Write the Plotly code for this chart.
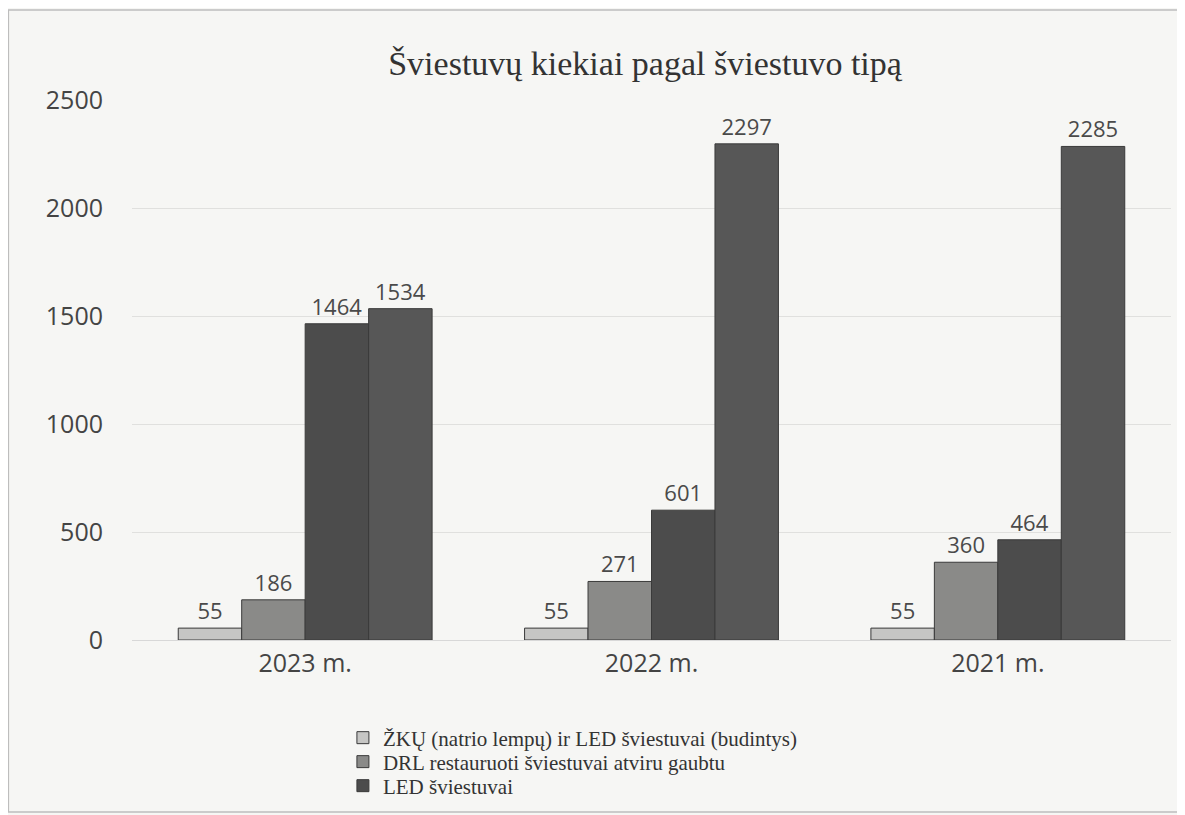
import plotly.graph_objects as go

categories = ["2023 m.", "2022 m.", "2021 m."]
series_names = [
    "ŽKŲ (natrio lempų) ir LED šviestuvai (budintys)",
    "DRL restauruoti šviestuvai atviru gaubtu",
    "LED šviestuvai",
    "LED šviestuvai",
]
s1 = [55, 55, 55]
s2 = [186, 271, 360]
s3 = [1464, 601, 464]
s4 = [1534, 2297, 2285]
values = [s1, s2, s3, s4]
colors = ["#c6c6c4", "#8a8a88", "#4c4c4c", "#575757"]
show_leg = [True, True, True, False]
legend_ids = ["legend", "legend2", "legend3", "legend3"]

fig = go.Figure()
for name, vals, col, sl, lid in zip(series_names, values, colors, show_leg, legend_ids):
    fig.add_trace(go.Bar(
        x=categories, y=vals, name=name, showlegend=sl, legend=lid,
        marker=dict(color=col, line=dict(color="#3a3a3a", width=1)),
        text=[str(v) for v in vals], textposition="outside",
        textfont=dict(family="Open Sans, sans-serif", size=22, color="#4a4a4a"),
        cliponaxis=False,
    ))

legend_font = dict(family="Liberation Serif, serif", size=21, color="#333333")
legend_common = dict(orientation="v", x=0.203, xanchor="left", yanchor="middle",
                     font=legend_font, itemwidth=30, bgcolor="rgba(0,0,0,0)")

fig.update_layout(
    width=1185, height=815,
    margin=dict(l=124, r=22, t=92, b=183),
    paper_bgcolor="#f6f6f4", plot_bgcolor="#f6f6f4",
    barmode="group", bargap=0.267, bargroupgap=0,
    title=dict(text="Šviestuvų kiekiai pagal šviestuvo tipą", x=0.5376, xanchor="center",
               y=0.933, yanchor="middle",
               font=dict(family="Liberation Serif, serif", size=34, color="#333333")),
    xaxis=dict(showgrid=False, showline=True, linecolor="#d8d8d8", ticks="",
               ticklabelstandoff=1,
               tickfont=dict(family="Open Sans, sans-serif", size=25, color="#444444")),
    yaxis=dict(range=[0, 2500], dtick=500, showgrid=True, gridcolor="#e0e0de",
               zeroline=False, ticks="", ticklabelstandoff=28,
               tickfont=dict(family="Open Sans, sans-serif", size=25, color="#444444")),
    legend=dict(**legend_common, y=-0.1815),
    legend2=dict(**legend_common, y=-0.2259),
    legend3=dict(**legend_common, y=-0.2704),
    shapes=[dict(type="rect", xref="paper", yref="paper",
                 x0=-0.119, x1=1.0067, y0=-0.3185, y1=1.1667,
                 line=dict(color="#bdbdbd", width=1.5))],
)

fig.write_html("out.html")
